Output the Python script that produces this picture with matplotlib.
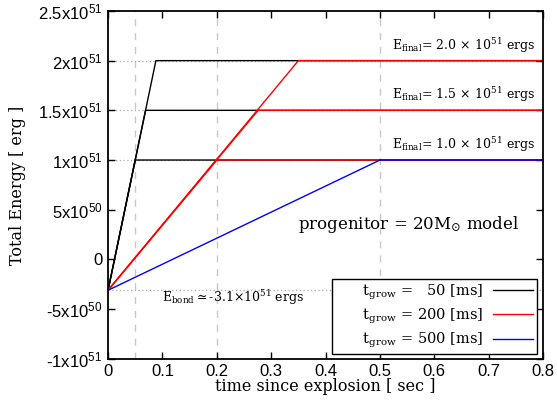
import matplotlib
matplotlib.use('Agg')
import matplotlib.pyplot as plt
import numpy as np

plt.rcParams['mathtext.fontset'] = 'custom'
plt.rcParams['mathtext.rm'] = 'DejaVu Serif'
plt.rcParams['mathtext.it'] = 'DejaVu Serif:italic'
plt.rcParams['mathtext.sf'] = 'Liberation Sans'

serif = 'DejaVu Serif'
sans = 'Liberation Sans'

# energies in erg
e_bond = -3.1e50
e_final = [1.0e51, 1.5e51, 2.0e51]

# breakpoint times [s] where each run reaches its final energy
t_end = 0.8
t_reach_50 = [0.05, 0.069, 0.088]
t_reach_200 = [0.2, 0.276, 0.350]
t_reach_500 = [0.5]

t_grow_marks = [0.05, 0.2, 0.5]

xticks = [0, 0.1, 0.2, 0.3, 0.4, 0.5, 0.6, 0.7, 0.8]
xticklabels = ['0', '0.1', '0.2', '0.3', '0.4', '0.5', '0.6', '0.7', '0.8']
yticks = [-1e51, -5e50, 0, 5e50, 1e51, 1.5e51, 2e51, 2.5e51]
yticklabels = [r'-$\mathsf{1x10^{51}}$', r'-$\mathsf{5x10^{50}}$', '0',
               r'$\mathsf{5x10^{50}}$', r'$\mathsf{1x10^{51}}$',
               r'$\mathsf{1.5x10^{51}}$', r'$\mathsf{2x10^{51}}$',
               r'$\mathsf{2.5x10^{51}}$']

fig = plt.figure(figsize=(5.57, 4.05), dpi=100)
ax = fig.add_axes([0.194, 0.114, 0.781, 0.859])

# reference lines
for t in t_grow_marks:
    ax.axvline(t, color='#c8c8c8', lw=1.0, ls=(0, (5, 5)), zorder=1)
for e in e_final + [e_bond]:
    ax.axhline(e, color='#aaaaaa', lw=0.9, ls=(0, (1, 2)), zorder=1)

def draw_run(t_list, e_list, color, label):
    for i, (tr, ef) in enumerate(zip(t_list, e_list)):
        ax.plot([0, tr, t_end], [e_bond, ef, ef], color=color, lw=1.0,
                zorder=2, label=label if i == 0 else None)

draw_run(t_reach_50, e_final, 'black', r'      t$_{\rm grow}$ =   50 [ms]')
draw_run(t_reach_200, e_final, 'red', r'      t$_{\rm grow}$ = 200 [ms]')
draw_run(t_reach_500, e_final[:1], 'blue', r'      t$_{\rm grow}$ = 500 [ms]')

for ef, txt in zip(e_final, ['1.0', '1.5', '2.0']):
    ax.text(0.522, ef + 0.06e51,
            r'E$_{\rm final}$= ' + txt + r'$\,\times\,$10$^{51}$ ergs',
            fontsize=9, family=serif, va='bottom', ha='left')

ax.text(0.35, 0.35e51, r'progenitor = 20M$_{\odot}$ model',
        fontsize=12, family=serif, va='center', ha='left')
ax.text(0.10, -0.38e51, r'E$_{\rm bond}$$\simeq$-3.1$\times$10$^{51}$ ergs',
        fontsize=9, family=serif, va='center', ha='left')

ax.set_xlim(0, 0.8)
ax.set_ylim(-1e51, 2.5e51)
ax.set_xticks(xticks)
ax.set_xticklabels(xticklabels, family=sans, fontsize=12)
ax.set_yticks(yticks)
ax.set_yticklabels(yticklabels, family=sans, fontsize=12)
ax.tick_params(direction='in', top=True, right=True, length=5, width=1, pad=4)
for s in ax.spines.values():
    s.set_linewidth(1.3)

ax.set_xlabel('time since explosion [ sec ]', family=serif, fontsize=11.5, labelpad=-1)
ax.set_ylabel('Total Energy [ erg ]', family=serif, fontsize=11.5, labelpad=9)

leg = ax.legend(loc='lower right', bbox_to_anchor=(0.986, 0.014), borderaxespad=0,
                markerfirst=False, fancybox=False, edgecolor='black',
                prop={'family': serif, 'size': 10.5}, handlelength=2.8,
                handletextpad=0.6, labelspacing=0.35, borderpad=0.25,
                framealpha=1)
leg.get_frame().set_linewidth(1.0)

fig.savefig('out.png', dpi=100)
